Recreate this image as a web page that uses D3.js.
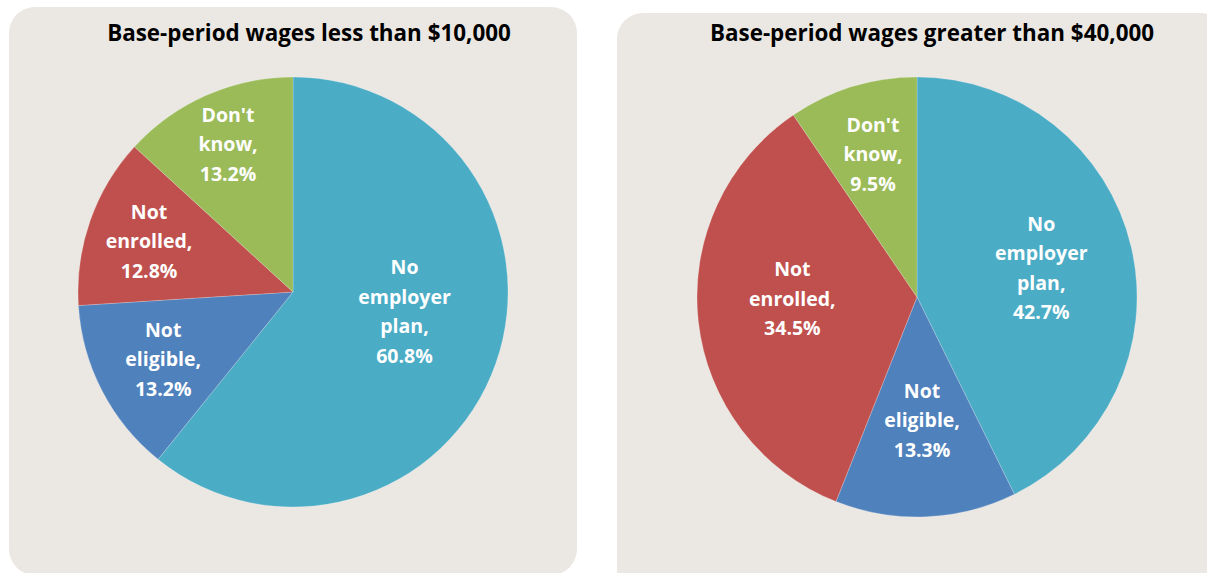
<!DOCTYPE html>
<html>
<head>
<meta charset="utf-8">
<script src="https://cdn.jsdelivr.net/npm/d3@7"></script>
<style>
  html, body { margin: 0; padding: 0; background: #fff; }
  svg { display: block; }
  text { font-family: "Open Sans", Lato, sans-serif; font-weight: bold; }
</style>
</head>
<body>
<div id="chart"></div>
<script>
// slice categories, same order in both pies (clockwise from 12 o'clock)
var categories = ["No employer plan", "Not eligible", "Not enrolled", "Don't know"];
var labelLines = [["No", "employer", "plan,"], ["Not", "eligible,"], ["Not", "enrolled,"], ["Don't", "know,"]];
var colors = ["#4bacc6", "#4f81bd", "#c0504d", "#9bbb59"];

var titles = ["Base-period wages less than $10,000", "Base-period wages greater than $40,000"];
var lowWages = [60.8, 13.2, 12.8, 13.2];
var highWages = [42.7, 13.3, 34.5, 9.5];

var width = 1207, height = 573;

// panel layout (box, pie centre / radius, label distance per slice as share of radius,
// plus a small vertical nudge like excel's best-fit placement)
var panels = [
    {x: 9, y: 7, w: 568, h: 568, title: titles[0], values: lowWages,
     cx: 293, cy: 292, r: 215, titleX: 309,
     labelR: [0.55, 0.68, 0.71, 0.75], nudge: [-20, 0, 0, 0]},
    {x: 617, y: 13, w: 610, h: 600, title: titles[1], values: highWages,
     cx: 917, cy: 297, r: 220, titleX: 932,
     labelR: [0.58, 0.56, 0.57, 0.68], nudge: [0, 0, -12, 0]}
];

var svg = d3.select("#chart").append("svg")
    .attr("width", width)
    .attr("height", height);

var pie = d3.pie().sort(null).value(function(d){ return d; });

panels.forEach(function(p){
    svg.append("rect")
        .attr("x", p.x).attr("y", p.y)
        .attr("width", p.w).attr("height", p.h)
        .attr("rx", 26).attr("ry", 26)
        .style("fill", "#ebe8e3");

    svg.append("text")
        .attr("x", p.titleX)
        .attr("y", 41)
        .attr("text-anchor", "middle")
        .attr("font-size", "22.4px")
        .style("fill", "#000")
        .text(p.title);

    var g = svg.append("g").attr("transform", "translate(" + p.cx + "," + p.cy + ")");
    var arc = d3.arc().innerRadius(0).outerRadius(p.r);
    var arcs = pie(p.values);

    g.selectAll("path.slice")
        .data(arcs)
        .enter().append("path")
        .attr("class", "slice")
        .attr("d", arc)
        .style("fill", function(d, i){ return colors[i]; })
        .style("stroke", "#ffffff")
        .style("stroke-opacity", 0.35)
        .style("stroke-width", 0.6);

    var lineH = 29.5;
    arcs.forEach(function(d, i){
        var lr = p.r * p.labelR[i];
        var c = d3.arc().innerRadius(lr).outerRadius(lr).centroid(d);
        var lines = labelLines[i].concat([d3.format(".1f")(d.data) + "%"]);
        var t = g.append("text")
            .attr("text-anchor", "middle")
            .attr("font-size", "19.5px")
            .style("fill", "#fff");
        var y0 = c[1] + p.nudge[i] - (lines.length - 1) * lineH / 2 + 7;
        lines.forEach(function(s, k){
            t.append("tspan")
                .attr("x", c[0])
                .attr("y", y0 + k * lineH)
                .text(s);
        });
    });
});
</script>
</body>
</html>
